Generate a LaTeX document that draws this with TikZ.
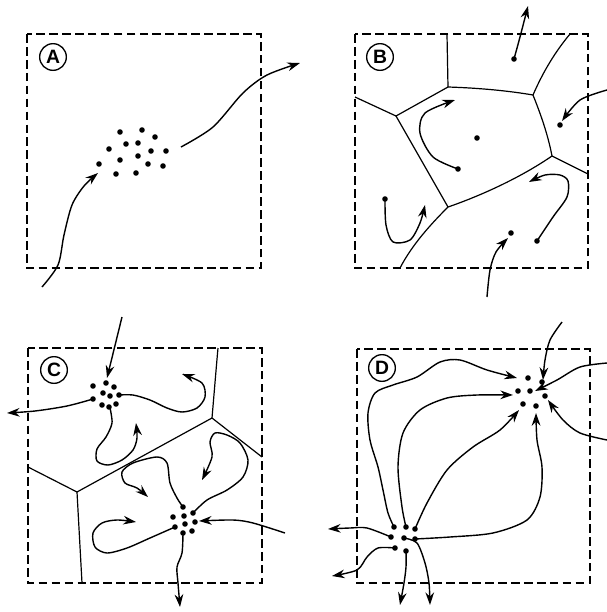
\documentclass[tikz,border=0pt]{standalone}
\usepackage{fontspec}
\setmainfont{Liberation Sans}
\usepackage{tikz}
\usetikzlibrary{arrows.meta}

\begin{document}
\begin{tikzpicture}[
    x=0.75pt, y=-0.75pt,
    frame/.style={line width=1pt, dash pattern=on 6.5pt off 3.2pt},
    cell/.style={line width=0.9pt},
    flow/.style={line width=1.05pt, -{Stealth[length=9.5pt,width=6.5pt]}},
    tag/.style={circle, draw, line width=1pt, minimum size=20pt, inner sep=0pt, font=\fontsize{14.5}{14.5}\selectfont\bfseries},
]
\useasboundingbox (0,0) rectangle (607,612);

% Panel A
\draw[frame] (27,34) rectangle (261,268);
\node[tag] (labA) at (53,57) {A};
\foreach \p in {(120,132),(142,130),(155,137),(109,149),(126,144),(138,143),(151,151),(166,151),
                (99,164),(120,160),(138,156),(148,164),(163,166),(116,174),(136,173)}
    \fill \p circle[radius=2.1pt];
\draw[flow] plot[smooth] coordinates {(42,287) (58,265) (64,235) (72,205) (84,186) (98,173)};
\draw[flow] plot[smooth] coordinates {(181,147) (213,127) (243,93) (267,75) (300,63)};

% Panel B
\draw[frame] (355,34) rectangle (588,268);
\node[tag] (labB) at (380,57) {B};
\draw[cell] (447,34) -- (448,87);
\draw[cell] (355,97) -- (396,116) -- (448,87);
\draw[cell] (448,87) .. controls (480,88) and (510,91) .. (533,95);
\draw[cell] (533,95) .. controls (543,72) and (555,52) .. (570,34);
\draw[cell] (533,95) .. controls (541,115) and (548,135) .. (552,156);
\draw[cell] (552,156) -- (588,174);
\draw[cell] (396,116) -- (448,207);
\draw[cell] (448,207) .. controls (480,196) and (520,178) .. (552,156);
\draw[cell] (448,207) .. controls (430,225) and (412,245) .. (400,268);
\foreach \p in {(514,59),(560,125),(477,138),(458,169),(385,199),(511,233),(537,241)}
    \fill \p circle[radius=2.1pt];
\draw[flow] plot[smooth] coordinates {(514,59) (520,37) (528,6)};
\draw[flow] plot[smooth] coordinates {(607,90) (580,100) (562,121)};
\draw[flow] plot[smooth] coordinates {(458,169) (433,157) (420,133) (425,113) (455,100)};
\draw[flow] plot[smooth] coordinates {(385,199) (386,225) (393,242) (410,240) (420,223) (425,205)};
\draw[flow] plot[smooth] coordinates {(537,241) (553,217) (567,197) (568,181) (560,175) (545,175) (529,182)};
\draw[flow] plot[smooth] coordinates {(487,297) (490,270) (496,252) (508,238)};

% Panel C
\draw[frame] (28,348) rectangle (262,583);
\node[tag] (labC) at (54,370) {C};
\draw[cell] (218,348) .. controls (216,370) and (214,395) .. (212,418);
\draw[cell] (212,418) -- (262,457);
\draw[cell] (212,418) -- (77,492);
\draw[cell] (28,467) -- (77,492);
\draw[cell] (77,492) -- (82,583);
\foreach \p in {(106,383),(93,386),(114,387),(103,393),(110,396),(119,395),(93,399),(102,405),(109,407),(116,404),
                (183,507),(193,513),(173,517),(184,516),(185,524),(195,522),(175,527),(183,533),(192,531)}
    \fill \p circle[radius=2.1pt];
\draw[flow] (122,317) -- (107,378);
\draw[flow] plot[smooth] coordinates {(93,399) (67,406) (35,411) (7,413)};
\draw[flow] plot[smooth] coordinates {(119,395) (133,395) (150,400) (167,408) (182,412) (197,408) (205,397) (202,383) (182,374)};
\draw[flow] plot[smooth] coordinates {(110,408) (112,423) (106,437) (97,449) (97,461) (108,465) (122,460) (133,450) (137,438) (136,423)};
\draw[flow] plot[smooth] coordinates {(193,513) (207,500) (227,490) (243,477) (248,460) (240,443) (227,435) (215,433) (210,442) (212,457) (202,480)};
\draw[flow] plot[smooth] coordinates {(183,507) (177,498) (170,483) (167,463) (157,457) (133,463) (122,472) (125,483) (137,488) (148,497)};
\draw[flow] plot[smooth] coordinates {(175,527) (150,538) (127,548) (107,553) (95,547) (93,533) (102,523) (117,520) (136,522)};
\draw[flow] plot[smooth] coordinates {(285,533) (253,523) (233,520) (199,521)};
\draw[flow] plot[smooth] coordinates {(183,533) (182,553) (177,567) (178,583) (180,607)};

% Panel D
\draw[frame] (357,349) rectangle (590,583);
\node[tag] (labD) at (382,368) {D};
\foreach \p in {(528,378),(542,382),(518,391),(530,391),(545,396),(523,404),(536,406),
                (394,527),(406,527),(415,529),(391,537),(404,538),(415,539),(395,548),(406,551)}
    \fill \p circle[radius=2.1pt];
\draw[flow] plot[smooth] coordinates {(394,527) (388,513) (383,490) (378,467) (370,440) (368,413) (375,393) (393,385) (417,377) (440,362) (460,360) (487,370) (517,378)};
\draw[flow] plot[smooth] coordinates {(406,527) (402,507) (398,467) (403,433) (420,410) (447,398) (477,395) (513,395)};
\draw[flow] plot[smooth] coordinates {(415,529) (427,503) (447,470) (473,447) (500,430) (519,410)};
\draw[flow] plot[smooth] coordinates {(415,539) (450,537) (493,533) (527,520) (540,497) (542,467) (537,440) (536,413)};
\draw[flow] plot[smooth] coordinates {(562,322) (550,340) (545,360) (543,380)};
\draw[flow] plot[smooth] coordinates {(607,363) (580,367) (557,380) (535,391)};
\draw[flow] plot[smooth] coordinates {(607,440) (580,433) (563,420) (548,400)};
\draw[flow] plot[smooth] coordinates {(391,537) (367,528) (350,528) (328,529)};
\draw[flow] plot[smooth] coordinates {(395,548) (378,548) (367,557) (357,570) (332,576)};
\draw[flow] plot[smooth] coordinates {(406,551) (406,567) (404,583) (400,605)};
\draw[flow] plot[smooth] coordinates {(404,538) (417,543) (425,563) (429,583) (430,605)};

\end{tikzpicture}
\end{document}
